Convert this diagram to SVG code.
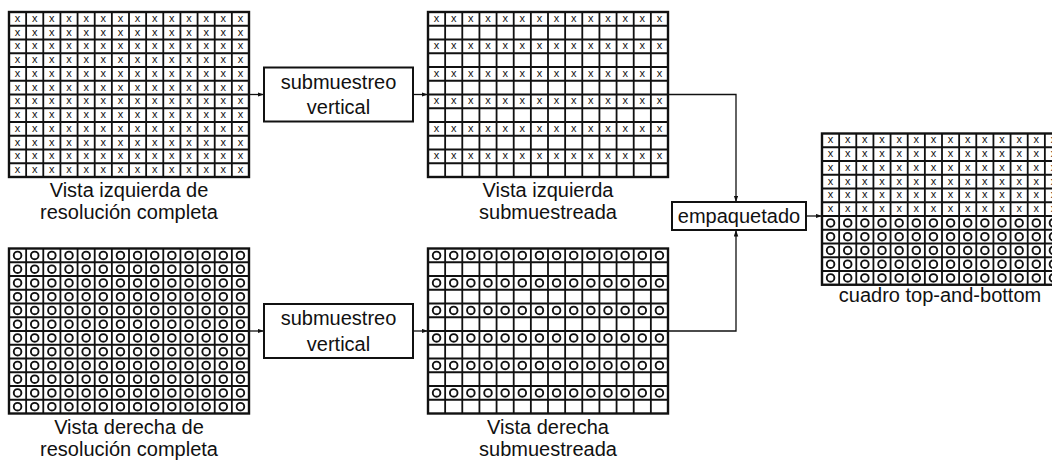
<svg xmlns="http://www.w3.org/2000/svg" width="1052" height="466" viewBox="0 0 1052 466">
  <style>
    .lbl { font-family: "Liberation Sans", Arial, sans-serif; font-size: 20px; fill: #111; text-anchor: middle; }
    .xg { font-family: "Liberation Sans", Arial, sans-serif; font-size: 11px; fill: #111; text-anchor: middle; }
    .grid { fill: none; stroke: #111; stroke-width: 1.8; }
    .frame { fill: #fff; }
    .edge { fill: none; stroke: #111; stroke-width: 2.4; }
    .ring { fill: none; stroke: #111; stroke-width: 1.9; }
    .box { fill: #fff; stroke: #111; stroke-width: 2; }
    .wire { fill: none; stroke: #111; stroke-width: 1.3; marker-end: url(#head); }
  </style>
  <defs>
    <marker id="head" markerUnits="userSpaceOnUse" markerWidth="7" markerHeight="5" refX="6.5" refY="2.25" orient="auto">
      <path d="M0,0 L6.5,2.25 L0,4.5 Z" fill="#111"/>
    </marker>
    <!-- 14 x 12 cell grid, 240 x 165 -->
    <g id="cells">
      <rect class="frame" x="0" y="0" width="240" height="165"/>
      <path class="grid" d="M17.14 0V165M34.29 0V165M51.43 0V165M68.57 0V165M85.71 0V165M102.86 0V165M120 0V165M137.14 0V165M154.29 0V165M171.43 0V165M188.57 0V165M205.71 0V165M222.86 0V165
        M0 13.75H240M0 27.5H240M0 41.25H240M0 55H240M0 68.75H240M0 82.5H240M0 96.25H240M0 110H240M0 123.75H240M0 137.5H240M0 151.25H240"/>
      <rect class="edge" x="0" y="0" width="240" height="165"/>
    </g>
    <!-- 14 x 11 cell grid for the packed frame -->
    <g id="cells11">
      <rect class="frame" x="0" y="0" width="240" height="151.25"/>
      <path class="grid" d="M17.14 0V151.25M34.29 0V151.25M51.43 0V151.25M68.57 0V151.25M85.71 0V151.25M102.86 0V151.25M120 0V151.25M137.14 0V151.25M154.29 0V151.25M171.43 0V151.25M188.57 0V151.25M205.71 0V151.25M222.86 0V151.25
        M0 13.75H240M0 27.5H240M0 41.25H240M0 55H240M0 68.75H240M0 82.5H240M0 96.25H240M0 110H240M0 123.75H240M0 137.5H240"/>
      <rect class="edge" x="0" y="0" width="240" height="151.25"/>
    </g>
    <text id="xr" class="xg" x="8.57 25.71 42.86 60 77.14 94.29 111.43 128.57 145.71 162.86 180 197.14 214.29 231.43" y="9.8">xxxxxxxxxxxxxx</text>
    <g id="or" class="ring">
      <circle cx="8.57" cy="6.875" r="3.8"/><circle cx="25.71" cy="6.875" r="3.8"/><circle cx="42.86" cy="6.875" r="3.8"/>
      <circle cx="60" cy="6.875" r="3.8"/><circle cx="77.14" cy="6.875" r="3.8"/><circle cx="94.29" cy="6.875" r="3.8"/>
      <circle cx="111.43" cy="6.875" r="3.8"/><circle cx="128.57" cy="6.875" r="3.8"/><circle cx="145.71" cy="6.875" r="3.8"/>
      <circle cx="162.86" cy="6.875" r="3.8"/><circle cx="180" cy="6.875" r="3.8"/><circle cx="197.14" cy="6.875" r="3.8"/>
      <circle cx="214.29" cy="6.875" r="3.8"/><circle cx="231.43" cy="6.875" r="3.8"/>
    </g>
  </defs>

  <rect width="1052" height="466" fill="#fff"/>

  <!-- connectors -->
  <g id="connectors">
    <path class="wire" d="M249 94.5H264"/>
    <path class="wire" d="M413 94.5H428"/>
    <path class="wire" d="M249 331H264"/>
    <path class="wire" d="M413 331H428"/>
    <path class="wire" d="M668 94.5H736V202"/>
    <path class="wire" d="M668 331H736V230"/>
    <path class="wire" d="M806 216H822"/>
  </g>

  <!-- left view, full resolution -->
  <g id="left-full">
    <use href="#cells" x="9" y="12"/>
    <use href="#xr" x="9" y="12"/><use href="#xr" x="9" y="25.75"/><use href="#xr" x="9" y="39.5"/>
    <use href="#xr" x="9" y="53.25"/><use href="#xr" x="9" y="67"/><use href="#xr" x="9" y="80.75"/>
    <use href="#xr" x="9" y="94.5"/><use href="#xr" x="9" y="108.25"/><use href="#xr" x="9" y="122"/>
    <use href="#xr" x="9" y="135.75"/><use href="#xr" x="9" y="149.5"/><use href="#xr" x="9" y="163.25"/>
    <text class="lbl" x="129" y="197">Vista izquierda de</text>
    <text class="lbl" x="129" y="219">resolución completa</text>
  </g>

  <!-- left view, subsampled -->
  <g id="left-sub">
    <use href="#cells" x="428" y="12"/>
    <use href="#xr" x="428" y="12"/><use href="#xr" x="428" y="39.5"/><use href="#xr" x="428" y="67"/>
    <use href="#xr" x="428" y="94.5"/><use href="#xr" x="428" y="122"/><use href="#xr" x="428" y="149.5"/>
    <text class="lbl" x="548" y="197">Vista izquierda</text>
    <text class="lbl" x="548" y="219">submuestreada</text>
  </g>

  <!-- right view, full resolution -->
  <g id="right-full">
    <use href="#cells" x="9" y="248.5"/>
    <use href="#or" x="9" y="248.5"/><use href="#or" x="9" y="262.25"/><use href="#or" x="9" y="276"/>
    <use href="#or" x="9" y="289.75"/><use href="#or" x="9" y="303.5"/><use href="#or" x="9" y="317.25"/>
    <use href="#or" x="9" y="331"/><use href="#or" x="9" y="344.75"/><use href="#or" x="9" y="358.5"/>
    <use href="#or" x="9" y="372.25"/><use href="#or" x="9" y="386"/><use href="#or" x="9" y="399.75"/>
    <text class="lbl" x="129" y="433.5">Vista derecha de</text>
    <text class="lbl" x="129" y="455.5">resolución completa</text>
  </g>

  <!-- right view, subsampled -->
  <g id="right-sub">
    <use href="#cells" x="428" y="248.5"/>
    <use href="#or" x="428" y="248.5"/><use href="#or" x="428" y="276"/><use href="#or" x="428" y="303.5"/>
    <use href="#or" x="428" y="331"/><use href="#or" x="428" y="358.5"/><use href="#or" x="428" y="386"/>
    <text class="lbl" x="548" y="433.5">Vista derecha</text>
    <text class="lbl" x="548" y="455.5">submuestreada</text>
  </g>

  <!-- vertical subsampling blocks -->
  <g id="subsample-top">
    <rect class="box" x="264" y="67.5" width="149" height="54"/>
    <text class="lbl" x="338.5" y="88.5">submuestreo</text>
    <text class="lbl" x="338.5" y="114">vertical</text>
  </g>
  <g id="subsample-bottom">
    <rect class="box" x="264" y="304" width="149" height="54"/>
    <text class="lbl" x="338.5" y="325">submuestreo</text>
    <text class="lbl" x="338.5" y="350.5">vertical</text>
  </g>

  <!-- packing block -->
  <g id="packing">
    <rect class="box" x="672" y="202" width="134" height="28"/>
    <text class="lbl" x="739" y="222.5">empaquetado</text>
  </g>

  <!-- packed top-and-bottom frame -->
  <g id="tab-frame">
    <use href="#cells11" x="822" y="133.5"/>
    <use href="#xr" x="822" y="133.5"/><use href="#xr" x="822" y="147.25"/><use href="#xr" x="822" y="161"/>
    <use href="#xr" x="822" y="174.75"/><use href="#xr" x="822" y="188.5"/><use href="#xr" x="822" y="202.25"/>
    <use href="#or" x="822" y="216"/><use href="#or" x="822" y="229.75"/><use href="#or" x="822" y="243.5"/>
    <use href="#or" x="822" y="257.25"/><use href="#or" x="822" y="271"/>
    <text class="lbl" x="940" y="302">cuadro top-and-bottom</text>
  </g>
</svg>
